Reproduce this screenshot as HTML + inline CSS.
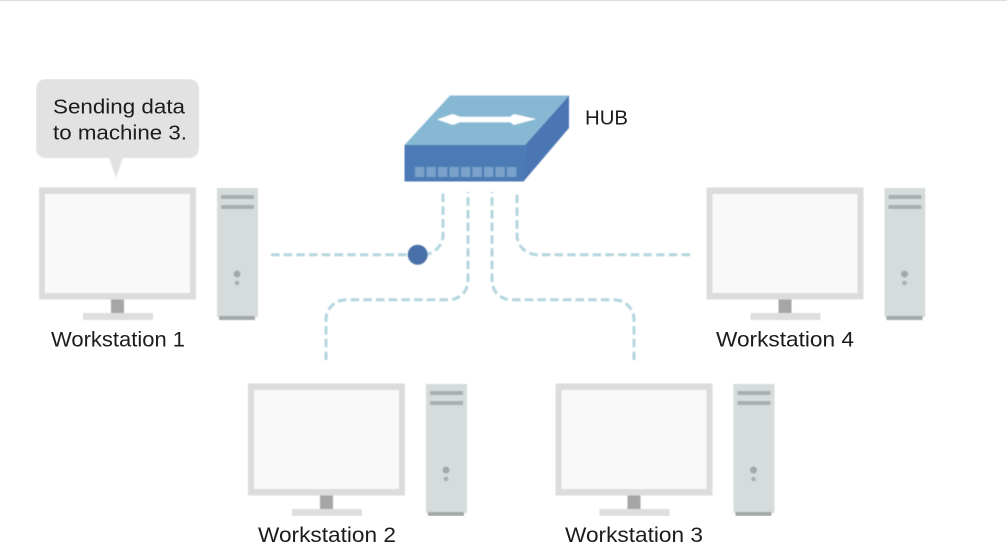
<!DOCTYPE html>
<html>
<head>
<meta charset="utf-8">
<style>
html,body{margin:0;padding:0;background:#fff;}
body{width:1007px;height:551px;overflow:hidden;}
svg{display:block;}
text{font-family:"Liberation Sans",sans-serif;fill:#1c1c1e;}
</style>
</head>
<body>
<svg width="1007" height="551" viewBox="0 0 1007 551" xmlns="http://www.w3.org/2000/svg">
<defs>
<filter id="s" x="0" y="0" width="100%" height="100%"><feGaussianBlur stdDeviation="0.4"/></filter>
</defs>
<rect x="0" y="0" width="1007" height="1" fill="#dcdcdc"/>
<g filter="url(#s)">

<!-- speech bubble -->
<path d="M47 79H188Q199 79 199 90V147Q199 158 188 158H123L116 178L109 158H47Q36 158 36 147V90Q36 79 47 79Z" fill="#e2e2e2"/>

<!-- Connectors -->
<g fill="none" stroke="#b4d6de" stroke-width="3" stroke-dasharray="8.500 4.200">
<path d="M271 254.700H423A20 20 0 0 0 443 234.700V192"/>
<path d="M326 360V320A20 20 0 0 1 346 299.700H449A19 19 0 0 0 468 280.700V192"/>
<path d="M634 360V320A20 20 0 0 0 614 299.700H511A19 19 0 0 1 492 280.700V192"/>
<path d="M690 254.700H537A20 20 0 0 1 517 234.700V192"/>
</g>
<circle cx="417.700" cy="254.700" r="10" fill="#4a6fa8"/>

<!-- Hub -->
<polygon points="404.500,145 450,95.500 569,95.500 525,145" fill="#86b8d4"/>
<polygon points="404.500,145 525,145 524,181.500 404.500,181.500" fill="#4c7ab5"/>
<polygon points="525,145 569,95.500 569,128 523.500,181.500" fill="#4c76b4"/>
<polygon points="437,119.500 453,114 460,116.800 510,116.800 514,114 536,119 514,125 510,122.300 460,122.300 453,125" fill="#fff"/>
<g fill="#7aa2cb">
<rect x="415" y="167" width="9.300" height="10"/>
<rect x="426.500" y="167" width="9.300" height="10"/>
<rect x="438" y="167" width="9.300" height="10"/>
<rect x="449.500" y="167" width="9.300" height="10"/>
<rect x="461" y="167" width="9.300" height="10"/>
<rect x="472.500" y="167" width="9.300" height="10"/>
<rect x="484" y="167" width="9.300" height="10"/>
<rect x="495.500" y="167" width="9.300" height="10"/>
<rect x="507" y="167" width="9.300" height="10"/>
</g>

<!-- Workstation 1 -->
<g>
<rect x="39" y="187.500" width="157" height="112" fill="#dcdcdc"/>
<rect x="45" y="194" width="145" height="99" fill="#f9f9f9"/>
<rect x="111" y="299.500" width="13" height="13.500" fill="#a6a6a6"/>
<rect x="83" y="313" width="70" height="7" fill="#dedede"/>
<rect x="217" y="188" width="41" height="129" fill="#d6dcdc"/>
<rect x="221" y="195" width="33" height="4" fill="#a9aeae"/>
<rect x="221" y="205" width="33" height="4" fill="#a9aeae"/>
<circle cx="237" cy="274" r="3.500" fill="#a3a8a8"/>
<circle cx="237" cy="283" r="2.300" fill="#a9aeae"/>
<rect x="219" y="316" width="36" height="4" fill="#a3a8a8"/>
</g>

<!-- Workstation 2 -->
<g transform="translate(209,196)">
<rect x="39" y="187.500" width="157" height="112" fill="#dcdcdc"/>
<rect x="45" y="194" width="145" height="99" fill="#f9f9f9"/>
<rect x="111" y="299.500" width="13" height="13.500" fill="#a6a6a6"/>
<rect x="83" y="313" width="70" height="7" fill="#dedede"/>
<rect x="217" y="188" width="41" height="129" fill="#d6dcdc"/>
<rect x="221" y="195" width="33" height="4" fill="#a9aeae"/>
<rect x="221" y="205" width="33" height="4" fill="#a9aeae"/>
<circle cx="237" cy="274" r="3.500" fill="#a3a8a8"/>
<circle cx="237" cy="283" r="2.300" fill="#a9aeae"/>
<rect x="219" y="316" width="36" height="4" fill="#a3a8a8"/>
</g>

<!-- Workstation 3 -->
<g transform="translate(516.500,196)">
<rect x="39" y="187.500" width="157" height="112" fill="#dcdcdc"/>
<rect x="45" y="194" width="145" height="99" fill="#f9f9f9"/>
<rect x="111" y="299.500" width="13" height="13.500" fill="#a6a6a6"/>
<rect x="83" y="313" width="70" height="7" fill="#dedede"/>
<rect x="217" y="188" width="41" height="129" fill="#d6dcdc"/>
<rect x="221" y="195" width="33" height="4" fill="#a9aeae"/>
<rect x="221" y="205" width="33" height="4" fill="#a9aeae"/>
<circle cx="237" cy="274" r="3.500" fill="#a3a8a8"/>
<circle cx="237" cy="283" r="2.300" fill="#a9aeae"/>
<rect x="219" y="316" width="36" height="4" fill="#a3a8a8"/>
</g>

<!-- Workstation 4 -->
<g transform="translate(667.500,0)">
<rect x="39" y="187.500" width="157" height="112" fill="#dcdcdc"/>
<rect x="45" y="194" width="145" height="99" fill="#f9f9f9"/>
<rect x="111" y="299.500" width="13" height="13.500" fill="#a6a6a6"/>
<rect x="83" y="313" width="70" height="7" fill="#dedede"/>
<rect x="217" y="188" width="41" height="129" fill="#d6dcdc"/>
<rect x="221" y="195" width="33" height="4" fill="#a9aeae"/>
<rect x="221" y="205" width="33" height="4" fill="#a9aeae"/>
<circle cx="237" cy="274" r="3.500" fill="#a3a8a8"/>
<circle cx="237" cy="283" r="2.300" fill="#a9aeae"/>
<rect x="219" y="316" width="36" height="4" fill="#a3a8a8"/>
</g>
</g>

<!-- Labels -->
<text x="53" y="113.500" font-size="20.500" textLength="132" lengthAdjust="spacingAndGlyphs">Sending data</text>
<text x="53" y="139.500" font-size="20.500" textLength="134" lengthAdjust="spacingAndGlyphs">to machine 3.</text>
<text x="585" y="124.500" font-size="20.500" textLength="43" lengthAdjust="spacingAndGlyphs">HUB</text>
<text x="51" y="346.500" font-size="21" textLength="134" lengthAdjust="spacingAndGlyphs">Workstation 1</text>
<text x="258" y="542" font-size="21" textLength="138" lengthAdjust="spacingAndGlyphs">Workstation 2</text>
<text x="565" y="542" font-size="21" textLength="138" lengthAdjust="spacingAndGlyphs">Workstation 3</text>
<text x="716" y="346.500" font-size="21" textLength="138" lengthAdjust="spacingAndGlyphs">Workstation 4</text>
</svg>
</body>
</html>
